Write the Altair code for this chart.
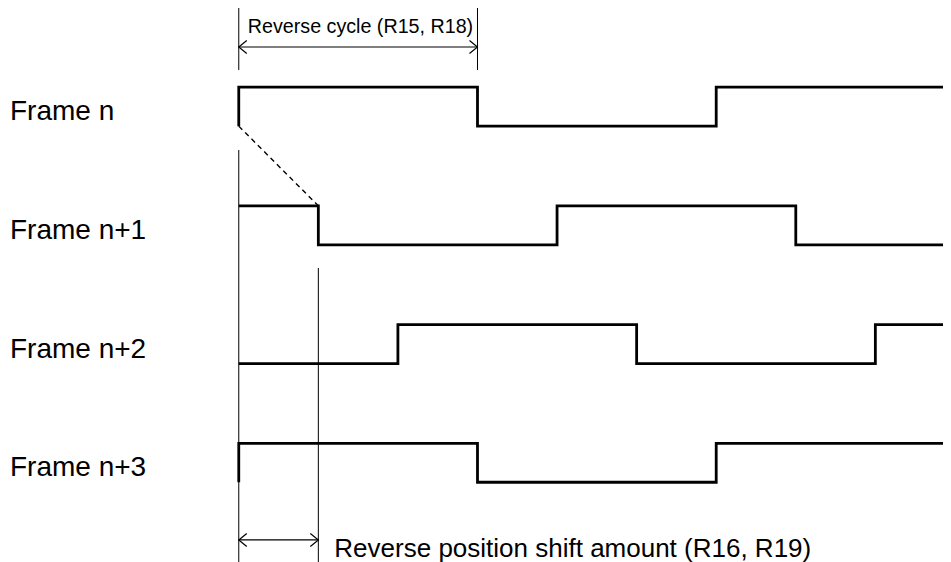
import altair as alt
import pandas as pd

# ---- data (time in units of the reverse position shift; level 0 = low, 1 = high)
frames = ["Frame n", "Frame n+1", "Frame n+2", "Frame n+3"]
start_levels = [0, 1, 0, 0]                      # level just before t = 0
edge_times = [[0, 3, 6], [1, 4, 7], [2, 5, 8], [0, 3, 6]]
reverse_cycle = 3                                # half period (R15, R18)
shift_amount = 1                                 # shift per frame (R16, R19)
cycle_label = "Reverse cycle (R15, R18)"
shift_label = "Reverse position shift amount (R16, R19)"

# ---- layout
T_MIN, T_MAX = -2.9, 8.85
Y_MIN, Y_MAX = -11.18, 3.03
ROW_STEP = 3.045
W, H = 935, 554

xs = alt.Scale(domain=[T_MIN, T_MAX], nice=False, zero=False)
ys = alt.Scale(domain=[Y_MIN, Y_MAX], nice=False, zero=False)

sig_rows = []
for k, (name, lvl, edges) in enumerate(zip(frames, start_levels, edge_times)):
    base = -k * ROW_STEP
    o = 0
    sig_rows.append(dict(frame=name, t=0, y=base + lvl, o=o))
    for e in edges:
        lvl = 1 - lvl
        o += 1
        sig_rows.append(dict(frame=name, t=e, y=base + lvl, o=o))
    sig_rows.append(dict(frame=name, t=T_MAX, y=base + lvl, o=o + 1))
sig = pd.DataFrame(sig_rows)

signals = alt.Chart(sig).mark_line(
    interpolate="step-after", color="black", strokeWidth=2.8,
    strokeJoin="miter", strokeCap="butt", clip=True
).encode(
    x=alt.X("t:Q", scale=xs, axis=None),
    y=alt.Y("y:Q", scale=ys, axis=None),
    detail="frame:N",
    order="o:Q",
)

# dashed link from frame n edge to frame n+1 edge
dash_df = pd.DataFrame({
    "t": [0, shift_amount],
    "y": [0, -ROW_STEP + 1],
})
dashed = alt.Chart(dash_df).mark_line(
    color="black", strokeWidth=1.4, strokeDash=[5, 4]
).encode(x=alt.X("t:Q", scale=xs, axis=None), y=alt.Y("y:Q", scale=ys, axis=None))

# thin reference verticals
vref = pd.DataFrame({
    "t": [0, shift_amount, 0, reverse_cycle],
    "y1": [-0.612, -3.638, Y_MAX, Y_MAX],
    "y2": [Y_MIN, Y_MIN, 1.44, 1.44],
})
vlines = alt.Chart(vref).mark_rule(color="black", strokeWidth=1, clip=True).encode(
    x=alt.X("t:Q", scale=xs, axis=None),
    y=alt.Y("y1:Q", scale=ys, axis=None),
    y2="y2:Q",
)

# dimension arrows
arr = pd.DataFrame({
    "t0": [0, 0],
    "t1": [reverse_cycle, shift_amount],
    "y": [2.03, -10.615],
})
arrow_lines = alt.Chart(arr).mark_rule(color="black", strokeWidth=1.2).encode(
    x=alt.X("t0:Q", scale=xs, axis=None),
    x2="t1:Q",
    y=alt.Y("y:Q", scale=ys, axis=None),
)
head_left = alt.Chart(arr).mark_point(
    shape="M 1 -0.82 L 0 0 L 1 0.82", size=256, filled=False,
    color="black", strokeWidth=1.2, opacity=1
).encode(x=alt.X("t0:Q", scale=xs, axis=None), y=alt.Y("y:Q", scale=ys, axis=None))
head_right = alt.Chart(arr).mark_point(
    shape="M -1 -0.82 L 0 0 L -1 0.82", size=256, filled=False,
    color="black", strokeWidth=1.2, opacity=1
).encode(x=alt.X("t1:Q", scale=xs, axis=None), y=alt.Y("y:Q", scale=ys, axis=None))

# texts
top_txt = alt.Chart(pd.DataFrame({"t": [0], "y": [2.40], "s": [cycle_label]})).mark_text(
    align="left", baseline="alphabetic", dx=9, fontSize=19.7,
    font="Liberation Sans", color="black"
).encode(x=alt.X("t:Q", scale=xs, axis=None), y=alt.Y("y:Q", scale=ys, axis=None), text="s:N")

bot_txt = alt.Chart(pd.DataFrame({"t": [shift_amount], "y": [-11.04], "s": [shift_label]})).mark_text(
    align="left", baseline="alphabetic", dx=16, fontSize=26,
    font="Liberation Sans", color="black"
).encode(x=alt.X("t:Q", scale=xs, axis=None), y=alt.Y("y:Q", scale=ys, axis=None), text="s:N")

lab = pd.DataFrame({"frame": frames, "y": [-k * ROW_STEP for k in range(len(frames))]})
labels = alt.Chart(lab).mark_text(
    align="left", baseline="alphabetic", dy=-6, fontSize=28,
    font="Liberation Sans", color="black"
).encode(x=alt.value(2), y=alt.Y("y:Q", scale=ys, axis=None), text="frame:N")

chart = alt.layer(
    vlines, dashed, signals, arrow_lines, head_left, head_right, top_txt, bot_txt, labels
).properties(
    width=W, height=H, padding=0, autosize=alt.AutoSizeParams(type="none")
).configure_view(stroke=None)

chart.save("out.html", embed_options={"renderer": "svg", "actions": False})
